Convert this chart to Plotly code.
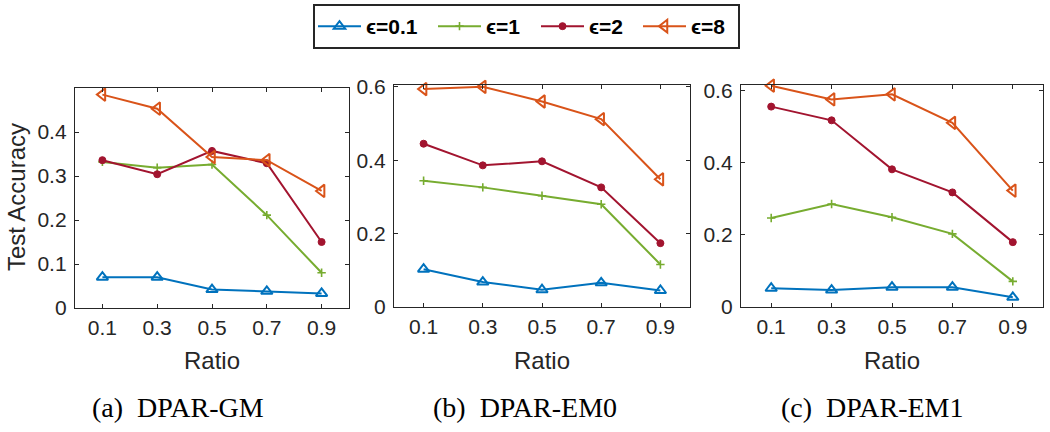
import plotly.graph_objects as go

ratio = [0.1, 0.3, 0.5, 0.7, 0.9]
x_ticks = [0.1, 0.3, 0.5, 0.7, 0.9]
x_tick_labels = ["0.1", "0.3", "0.5", "0.7", "0.9"]

series_names = ["ϵ=0.1", "ϵ=1", "ϵ=2", "ϵ=8"]

gm_e01 = [0.070, 0.070, 0.042, 0.038, 0.033]
gm_e1 = [0.332, 0.319, 0.326, 0.211, 0.080]
gm_e2 = [0.336, 0.304, 0.357, 0.329, 0.150]
gm_e8 = [0.485, 0.453, 0.343, 0.336, 0.266]

em0_e01 = [0.103, 0.068, 0.047, 0.066, 0.045]
em0_e1 = [0.344, 0.326, 0.303, 0.280, 0.116]
em0_e2 = [0.445, 0.386, 0.397, 0.326, 0.174]
em0_e8 = [0.594, 0.600, 0.560, 0.512, 0.348]

em1_e01 = [0.052, 0.047, 0.055, 0.055, 0.027]
em1_e1 = [0.247, 0.286, 0.249, 0.203, 0.071]
em1_e2 = [0.556, 0.518, 0.382, 0.318, 0.180]
em1_e8 = [0.614, 0.576, 0.590, 0.511, 0.323]

y_ticks_a = [0, 0.1, 0.2, 0.3, 0.4]
y_tick_labels_a = ["0", "0.1", "0.2", "0.3", "0.4"]
y_ticks_bc = [0, 0.2, 0.4, 0.6]
y_tick_labels_bc = ["0", "0.2", "0.4", "0.6"]

captions = ["(a)  DPAR-GM", "(b)  DPAR-EM0", "(c)  DPAR-EM1"]

panels = [
    [gm_e01, gm_e1, gm_e2, gm_e8],
    [em0_e01, em0_e1, em0_e2, em0_e8],
    [em1_e01, em1_e1, em1_e2, em1_e8],
]

colors = ["#0072BD", "#77AC30", "#A2142F", "#D95319"]
symbols = ["triangle-up-open", "cross-thin", "circle", "triangle-left-open"]
msizes = [10, 6, 7, 11]
mlw = [2, 1.6, 1, 2]
legend_widths = [62, 45, 44, 42]

W, H = 1050, 432
# pixel boxes: left, right, top, bottom
boxes = [(75, 349, 88, 308), (394, 690, 85, 307), (741, 1043, 85, 307)]
yranges = [[0, 0.5], [0, 0.605], [0, 0.616]]

fig = go.Figure()
axis_color = "#262626"
sans = "Liberation Sans, Arial, sans-serif"
tick_font = dict(family=sans, size=21, color=axis_color)

for p, (data, box) in enumerate(zip(panels, boxes)):
    xa = "x" if p == 0 else f"x{p+1}"
    ya = "y" if p == 0 else f"y{p+1}"
    for i, vals in enumerate(data):
        fig.add_trace(go.Scatter(
            x=ratio, y=vals, xaxis=xa, yaxis=ya,
            mode="lines+markers",
            name=series_names[i],
            legendgroup=series_names[i],
            showlegend=(p == 0),
            legendwidth=legend_widths[i],
            cliponaxis=False,
            line=dict(color=colors[i], width=2),
            marker=dict(symbol=symbols[i], size=msizes[i], color=colors[i],
                        line=dict(color=colors[i], width=mlw[i])),
        ))
    l, r, t, b = box
    xdom = [l / W, r / W]
    ydom = [1 - b / H, 1 - t / H]
    xkey = "xaxis" if p == 0 else f"xaxis{p+1}"
    ykey = "yaxis" if p == 0 else f"yaxis{p+1}"
    fig.update_layout(**{
        xkey: dict(domain=xdom, range=[0, 1], anchor=ya, automargin=False,
                   tickvals=x_ticks, ticktext=x_tick_labels,
                   showline=True, linecolor=axis_color, linewidth=1.3, mirror="ticks",
                   ticks="inside", ticklen=4, tickcolor=axis_color, tickwidth=1.2,
                   showgrid=False, zeroline=False, tickfont=tick_font,
                   ticklabelstandoff=1),
        ykey: dict(domain=ydom, range=yranges[p], anchor=xa, automargin=False,
                   tickvals=y_ticks_a if p == 0 else y_ticks_bc,
                   ticktext=y_tick_labels_a if p == 0 else y_tick_labels_bc,
                   showline=True, linecolor=axis_color, linewidth=1.3, mirror="ticks",
                   ticks="inside", ticklen=4, tickcolor=axis_color, tickwidth=1.2,
                   showgrid=False, zeroline=False, tickfont=tick_font,
                   ticklabelstandoff=3),
    })
    cx = (l + r) / 2 / W
    fig.add_annotation(text="Ratio", x=cx, y=1 - 360 / H, xref="paper", yref="paper",
                       showarrow=False, xanchor="center", yanchor="middle",
                       font=dict(family=sans, size=24, color=axis_color))

caption_centers = [178, 525, 872]
for cap, cc in zip(captions, caption_centers):
    fig.add_annotation(text=cap.replace("  ", "&nbsp;&nbsp;"), x=cc / W, y=1 - 407 / H,
                       xref="paper", yref="paper", showarrow=False,
                       xanchor="center", yanchor="middle",
                       font=dict(family="Liberation Serif, Times New Roman, serif", size=28, color="black"))

fig.add_annotation(text="Test Accuracy", x=16 / W, y=1 - 197 / H, xref="paper", yref="paper",
                   showarrow=False, textangle=-90, xanchor="center", yanchor="middle",
                   font=dict(family=sans, size=24, color=axis_color))

fig.update_layout(
    width=W, height=H, autosize=False,
    margin=dict(l=0, r=0, t=0, b=0, autoexpand=False),
    paper_bgcolor="white", plot_bgcolor="white",
    showlegend=True,
    legend=dict(orientation="h", x=313 / W, y=1 - 4 / H, xanchor="left", yanchor="top",
                bordercolor=axis_color, borderwidth=2, bgcolor="white",
                itemwidth=43, tracegroupgap=0,
                font=dict(family=sans, size=21, color="black", weight="bold")),
)

fig.write_html("out.html", config={"displayModeBar": False},
               post_script="document.body.style.margin='0';document.body.style.overflow='hidden';")
